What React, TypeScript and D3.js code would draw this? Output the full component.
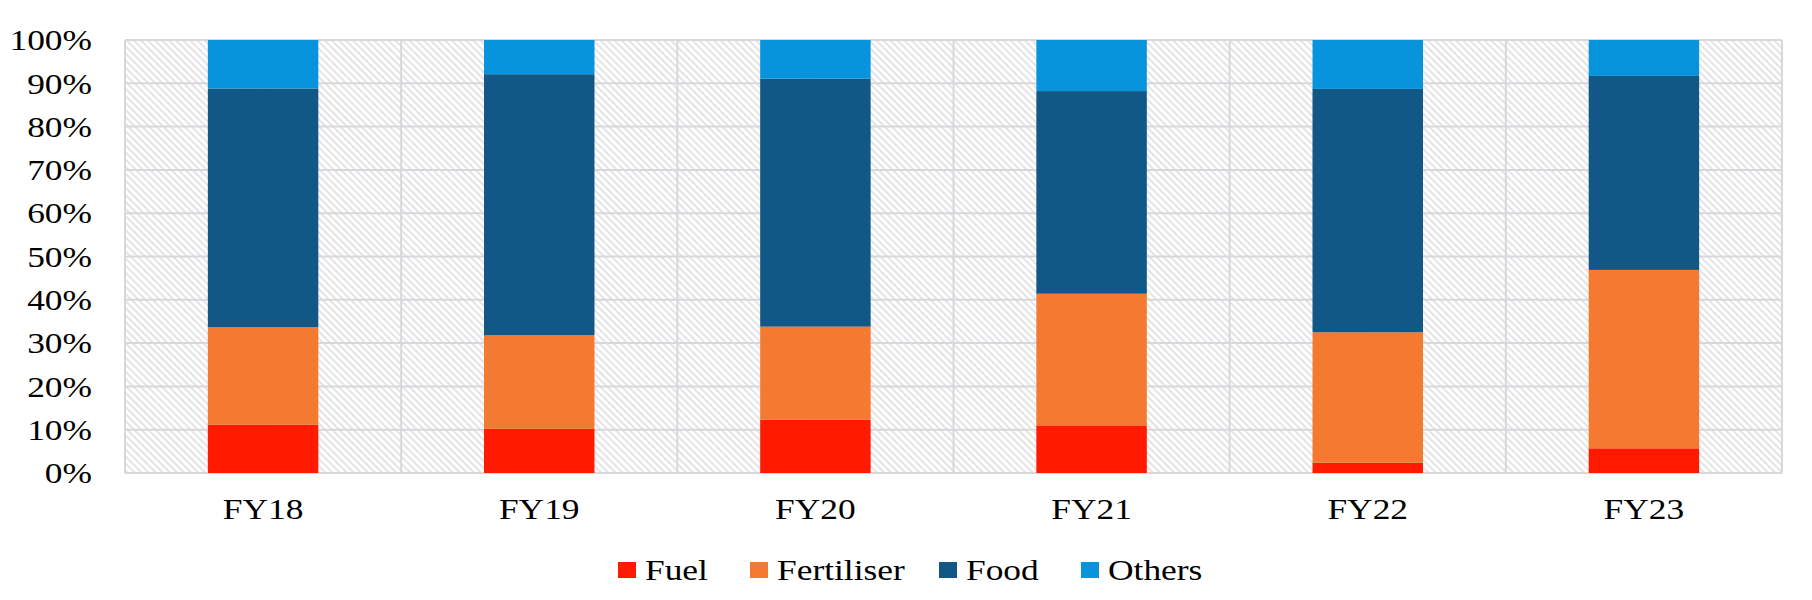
import React, { useEffect, useRef } from "react";
import * as d3 from "d3";

const categories = ["FY18", "FY19", "FY20", "FY21", "FY22", "FY23"];
const seriesNames = ["Fuel", "Fertiliser", "Food", "Others"];
const fuel = [11.2, 10.2, 12.3, 11.0, 2.4, 5.7];
const fertiliser = [22.5, 21.6, 21.5, 30.4, 30.1, 41.2];
const food = [55.1, 60.3, 57.3, 46.8, 56.2, 44.8];
const others = [11.2, 7.9, 8.9, 11.8, 11.3, 8.3];
const yTicks = [0, 10, 20, 30, 40, 50, 60, 70, 80, 90, 100];
const colors = ["#FF1A00", "#F47A31", "#115886", "#0794DC"];
const legendX = [618, 750, 939, 1081];

export default function App() {
  const ref = useRef<SVGSVGElement>(null);

  useEffect(() => {
    const svg = d3.select(ref.current);
    svg.selectAll("*").remove();
    const W = 1812, H = 600;
    const m = { left: 125, right: 30, top: 40, bottom: 127 };
    const x0 = m.left, x1 = W - m.right, y0 = H - m.bottom, y1 = m.top;

    const x = d3.scaleBand<string>().domain(categories).range([x0, x1]).paddingInner(0.6).paddingOuter(0.3);
    const y = d3.scaleLinear().domain([0, 100]).range([y0, y1]);

    const defs = svg.append("defs");
    const pat = defs.append("pattern")
      .attr("id", "hatch").attr("patternUnits", "userSpaceOnUse")
      .attr("width", 5).attr("height", 5)
      .attr("patternTransform", "rotate(-45)");
    pat.append("rect").attr("width", 5).attr("height", 5).attr("fill", "#ffffff");
    pat.append("line").attr("x1", 1).attr("y1", 0).attr("x2", 1).attr("y2", 5)
      .attr("stroke", "#d9d8db").attr("stroke-width", 1.4);

    svg.append("rect").attr("x", x0).attr("y", y1).attr("width", x1 - x0).attr("height", y0 - y1)
      .attr("fill", "url(#hatch)");

    const gridColor = "#d9d7db";
    svg.append("g").selectAll("line").data(yTicks).join("line")
      .attr("x1", x0).attr("x2", x1)
      .attr("y1", (d) => y(d)).attr("y2", (d) => y(d))
      .attr("stroke", gridColor).attr("stroke-width", 2);
    const step = x.step();
    const vb = d3.range(categories.length + 1).map((i) => x0 + i * step);
    svg.append("g").selectAll("line").data(vb).join("line")
      .attr("x1", (d) => d).attr("x2", (d) => d)
      .attr("y1", y1).attr("y2", y0)
      .attr("stroke", gridColor).attr("stroke-width", 2);

    const rows = categories.map((c, i) => ({
      cat: c, Fuel: fuel[i], Fertiliser: fertiliser[i], Food: food[i], Others: others[i],
    }));
    const stack = d3.stack<any>().keys(seriesNames)(rows);

    svg.append("g").selectAll("g").data(stack).join("g")
      .attr("fill", (_d, i) => colors[i])
      .selectAll("rect").data((d) => d).join("rect")
      .attr("x", (d: any) => x(d.data.cat)!)
      .attr("width", x.bandwidth())
      .attr("y", (d: any) => y(d[1]))
      .attr("height", (d: any) => y(d[0]) - y(d[1]));

    const font = "Liberation Serif, Times New Roman, DejaVu Serif, serif";
    const sx = 1.18;
    svg.append("g").selectAll("text").data(yTicks).join("text")
      .attr("transform", (d) => `translate(92,${y(d)}) scale(${sx},1)`)
      .attr("dy", "0.34em")
      .attr("text-anchor", "end")
      .style("font-family", font).style("font-size", "30px").attr("fill", "#000")
      .text((d) => `${d}%`);

    svg.append("g").selectAll("text").data(categories).join("text")
      .attr("transform", (d) => `translate(${x(d)! + x.bandwidth() / 2},519) scale(${sx},1)`)
      .attr("text-anchor", "middle")
      .style("font-family", font).style("font-size", "30px").attr("fill", "#000")
      .text((d) => d);

    const lg = svg.append("g").selectAll("g").data(seriesNames).join("g")
      .attr("transform", (_d, i) => `translate(${legendX[i]},0)`);
    lg.append("rect").attr("x", 0).attr("y", 562).attr("width", 18).attr("height", 16)
      .attr("fill", (_d, i) => colors[i]);
    lg.append("text").attr("transform", `translate(27,580) scale(${sx},1)`)
      .style("font-family", font).style("font-size", "30px").attr("fill", "#000")
      .text((d) => d);
  }, []);

  return (
    <svg ref={ref} width={1812} height={600}
      style={{ position: "absolute", left: 0, top: 0, background: "#fff" }} />
  );
}
